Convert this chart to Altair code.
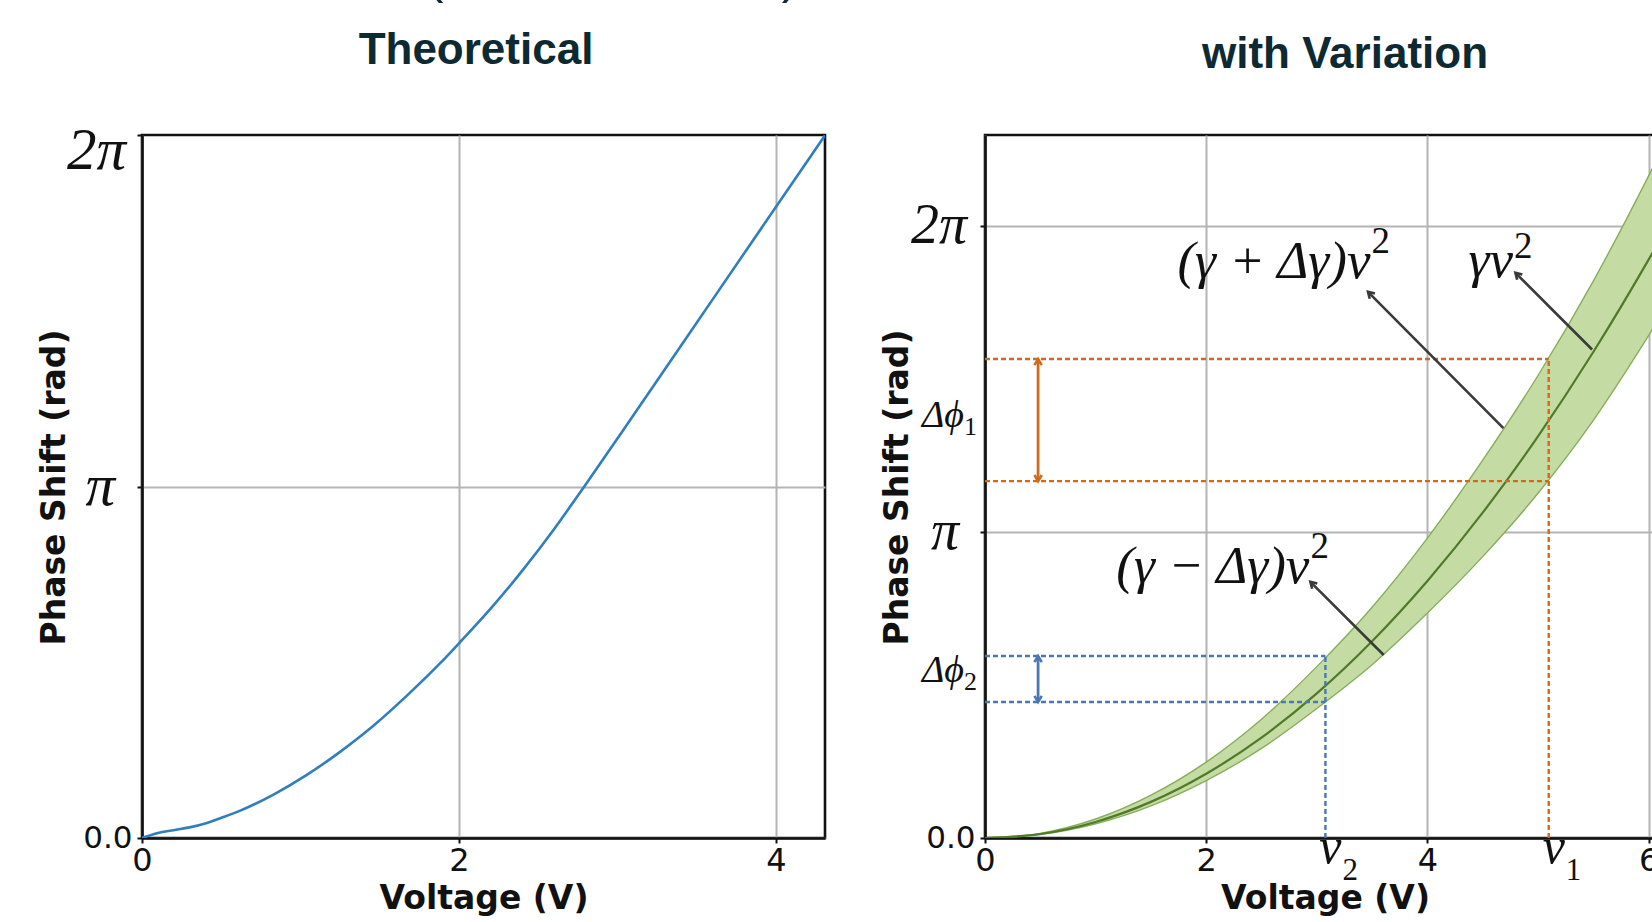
import math
import altair as alt
import pandas as pd

PI = math.pi

# ---------------- data: left panel (theoretical curve) ----------------
theo_v = [0, 0.1, 0.2, 0.3, 0.41, 0.52, 0.62, 0.83, 1.04, 1.25, 1.46, 1.67, 1.88, 2.01,
          2.2, 2.4, 2.6, 2.79, 3.02, 3.44, 4.00, 4.31]
theo_phase = [0, 0.045, 0.07, 0.095, 0.135, 0.19, 0.245, 0.388, 0.564, 0.77, 1.003, 1.27, 1.56, 1.755,
              2.05, 2.39, 2.76, 3.14, 3.61, 4.48, 5.64, 6.28]

# ---------------- data: right panel (band with variation) ----------------
band_v = [0, 0.5, 1, 1.5, 2, 2.5, 3, 3.5, 4, 4.5, 5, 5.5, 6, 6.5]
band_upper = [0, 0.048, 0.195, 0.44, 0.78, 1.22, 1.76, 2.37, 3.08, 3.88, 4.75, 5.72, 6.80, 7.98]
band_center = [0, 0.041, 0.165, 0.371, 0.66, 1.031, 1.485, 2.021, 2.64, 3.341, 4.125, 4.991, 5.94, 6.971]
band_lower = [0, 0.036, 0.146, 0.33, 0.59, 0.92, 1.33, 1.78, 2.31, 2.89, 3.54, 4.29, 5.16, 6.10]

v1, v2 = 5.097, 3.078
phi1_hi, phi1_lo = 4.92, 3.665
phi2_hi, phi2_lo = 1.869, 1.396
bracket_v = 0.48

# arrows: tail on curve -> head near label
arr_tail_v = [4.687, 5.489, 3.605]
arr_tail_p = [4.209, 5.017, 1.879]
arr_head_v = [3.463, 4.796, 2.942]
arr_head_p = [5.609, 5.804, 2.631]

# annotation labels (main text ends where its superscript starts)
ann_text = ["(γ  +  Δγ)v", "γv", "(γ  −  Δγ)v"]
ann_p = [5.749, 5.758, 2.618]
sup_v = [3.494, 4.783, 2.942]
sup_p = [6.006, 5.955, 2.875]

# pi tick labels
pi_vals = [PI, 2 * PI]
pi_text = ["π", "2π"]

ORANGE = "#cf6a1f"
BLUE = "#4a78b0"
GRAY_ARROW = "#3a3a3a"
INK = "#111111"
TITLE_COLOR = "#0d2a32"
GRID = "#b4b4b4"

W_L, W_R, H = 683, 720, 703


def y_axis(hide_top_grid):
    grid_color = ({"condition": {"test": "datum.value > 6", "value": "transparent"}, "value": GRID}
                  if hide_top_grid else GRID)
    return alt.Axis(
        values=[0, PI, 2 * PI],
        labelExpr="datum.value == 0 ? '0.0' : ''",
        labelFont="DejaVu Sans",
        labelFontSize=31,
        labelBaseline="middle",
        labelPadding=5,
        labelFlush=False,
        labelOverlap=False,
        labelColor=INK,
        gridColor=grid_color,
        title="Phase Shift (rad)",
        titleFont="DejaVu Sans",
        titleFontWeight="bold",
        titleFontSize=33,
        titleColor=INK,
        titleAngle=270,
        titleX=-88,
        titleY=352,
        titleAlign="center",
        titleBaseline="middle",
    )


def x_axis(vals, title_x):
    return alt.Axis(
        values=vals,
        format="d",
        labelFont="DejaVu Sans",
        labelFontSize=32,
        labelPadding=2,
        labelFlush=False,
        labelOverlap=False,
        labelColor=INK,
        gridColor=GRID,
        title="Voltage (V)",
        titleFont="DejaVu Sans",
        titleFontWeight="bold",
        titleFontSize=33,
        titleColor=INK,
        titleX=title_x,
        titleY=70,
        titleAlign="center",
        titleBaseline="alphabetic",
    )


def pi_labels(font_size, xs, dys):
    df = pd.DataFrame({"p": pi_vals, "t": pi_text, "px": xs, "dy": dys})
    layers = []
    for i in range(len(df)):
        layers.append(
            alt.Chart(df.iloc[[i]]).mark_text(
                font="Liberation Serif", fontStyle="italic", fontSize=font_size, color=INK,
                align="right", baseline="middle", dy=float(df["dy"].iloc[i])
            ).encode(x=alt.value(float(df["px"].iloc[i])), y="p:Q", text="t:N")
        )
    return layers


# ---------------- left panel ----------------
df_theo = pd.DataFrame({"v": theo_v, "phase": theo_phase})
xL = alt.Scale(domain=[0, 4.31], nice=False, zero=False)
yL = alt.Scale(domain=[0, 2 * PI], nice=False)

left_line = alt.Chart(df_theo).mark_line(
    color="#2f7fbf", strokeWidth=2.6, interpolate="monotone", clip=True
).encode(
    x=alt.X("v:Q", scale=xL, axis=x_axis([0, 2, 4], 341.5)),
    y=alt.Y("phase:Q", scale=yL, axis=y_axis(True)),
)

left_title = alt.Chart(pd.DataFrame({"t": ["Theoretical"]})).mark_text(
    font="Liberation Sans", fontWeight="bold", fontSize=44, color=TITLE_COLOR,
    align="center", baseline="alphabetic"
).encode(x=alt.value(334), y=alt.value(-71), text="t:N")

paren_df = pd.DataFrame({"t": ["(", ")"], "px": [293, 648]})
left_parens = alt.Chart(paren_df).mark_text(
    font="Liberation Sans", fontSize=50, color=TITLE_COLOR, align="center", baseline="alphabetic"
).encode(x=alt.X("px:Q", scale=None), y=alt.value(-142), text="t:N")

left = alt.layer(
    left_line, left_title, left_parens, *pi_labels(59, [-27, -16], [0, 16])
).properties(width=W_L, height=H)

# ---------------- right panel ----------------
df_band = pd.DataFrame({"v": band_v, "upper": band_upper, "center": band_center, "lower": band_lower})
xR = alt.Scale(domain=[0, 6.51], nice=False, zero=False)
yR = alt.Scale(domain=[0, 7.22], nice=False)

band = alt.Chart(df_band).mark_area(
    fill="#c4dca4", stroke="#86ae5c", strokeWidth=1.4, interpolate="monotone", clip=True
).encode(
    x=alt.X("v:Q", scale=xR, axis=x_axis([0, 2, 4, 6], 340)),
    y=alt.Y("upper:Q", scale=yR, axis=y_axis(False)),
    y2="lower:Q",
)
center = alt.Chart(df_band).mark_line(
    color="#4f7a28", strokeWidth=2.2, interpolate="monotone", clip=True
).encode(x="v:Q", y="center:Q")

df_dash = pd.DataFrame({
    "x": [0, 0, v1, 0, 0, v2],
    "x2": [v1, v1, v1, v2, v2, v2],
    "y": [phi1_hi, phi1_lo, 0, phi2_hi, phi2_lo, 0],
    "y2": [phi1_hi, phi1_lo, phi1_hi, phi2_hi, phi2_lo, phi2_hi],
    "g": ["o", "o", "o", "b", "b", "b"],
})
color_scale = alt.Scale(domain=["o", "b"], range=[ORANGE, BLUE])
dashes = alt.Chart(df_dash).mark_rule(strokeDash=[5, 3], strokeWidth=2.4).encode(
    x="x:Q", x2="x2:Q", y="y:Q", y2="y2:Q",
    color=alt.Color("g:N", scale=color_scale, legend=None),
)

df_br = pd.DataFrame({
    "x": [bracket_v, bracket_v], "lo": [phi1_lo, phi2_lo], "hi": [phi1_hi, phi2_hi], "g": ["o", "b"]
})
brackets = alt.Chart(df_br).mark_rule(strokeWidth=2.8).encode(
    x="x:Q", y="lo:Q", y2="hi:Q", color=alt.Color("g:N", scale=color_scale, legend=None)
)
HEAD = "M -0.6 1 L 0 0 L 0.6 1"
df_brh = pd.DataFrame({
    "x": [bracket_v] * 4,
    "y": [phi1_hi, phi1_lo, phi2_hi, phi2_lo],
    "ang": [0, 180, 0, 180],
    "g": ["o", "o", "b", "b"],
})
bracket_heads = alt.Chart(df_brh).mark_point(
    shape=HEAD, filled=False, strokeWidth=2.6, size=150, opacity=1
).encode(
    x="x:Q", y="y:Q", angle=alt.Angle("ang:Q", scale=None),
    stroke=alt.Stroke("g:N", scale=color_scale, legend=None),
)

df_arr = pd.DataFrame({"xt": arr_tail_v, "yt": arr_tail_p, "xh": arr_head_v, "yh": arr_head_p})
arrows = alt.Chart(df_arr).mark_rule(color=GRAY_ARROW, strokeWidth=2.6).encode(
    x="xt:Q", y="yt:Q", x2="xh:Q", y2="yh:Q"
)
arrow_heads = alt.Chart(df_arr).mark_point(
    shape=HEAD, filled=False, strokeWidth=2.6, size=150, opacity=1, color=GRAY_ARROW
).encode(x="xh:Q", y="yh:Q", angle=alt.value(315))

df_ann = pd.DataFrame({"t": ann_text, "v": sup_v, "p": ann_p})
ann = alt.Chart(df_ann).mark_text(
    font="Liberation Serif", fontStyle="italic", fontSize=53, color=INK,
    align="right", baseline="alphabetic", dx=-1
).encode(x="v:Q", y="p:Q", text="t:N")
df_sup = pd.DataFrame({"t": ["2", "2", "2"], "v": sup_v, "p": sup_p})
sup = alt.Chart(df_sup).mark_text(
    font="Liberation Serif", fontSize=37, color=INK, align="left", baseline="alphabetic"
).encode(x="v:Q", y="p:Q", text="t:N")

# delta-phi labels left of the axis
df_dphi = pd.DataFrame({"t": ["Δϕ", "Δϕ"], "s": ["1", "2"], "p": [4.22, 1.605]})
dphi = alt.Chart(df_dphi).mark_text(
    font="Liberation Serif", fontStyle="italic", fontSize=38, color=INK,
    align="right", baseline="alphabetic"
).encode(x=alt.value(-21), y="p:Q", text="t:N")
dphi_sub = alt.Chart(df_dphi).mark_text(
    font="Liberation Serif", fontSize=26, color=INK, align="left", baseline="alphabetic", dy=8
).encode(x=alt.value(-21), y="p:Q", text="s:N")

# v1, v2 labels under the axis
df_vl = pd.DataFrame({"v": [v2, v1], "s": ["2", "1"]})
vlab = alt.Chart(df_vl).mark_text(
    font="Liberation Serif", fontStyle="italic", fontSize=50, color=INK,
    align="center", baseline="alphabetic", dx=5
).encode(x="v:Q", y=alt.value(H + 25), text=alt.value("v"))
vsub = alt.Chart(df_vl).mark_text(
    font="Liberation Serif", fontSize=31, color=INK, align="left", baseline="alphabetic", dx=17
).encode(x="v:Q", y=alt.value(H + 42), text="s:N")

right_title = alt.Chart(pd.DataFrame({"t": ["with Variation"]})).mark_text(
    font="Liberation Sans", fontWeight="bold", fontSize=44, color=TITLE_COLOR,
    align="center", baseline="alphabetic"
).encode(x=alt.value(360), y=alt.value(-67), text="t:N")

right = alt.layer(
    band, center, dashes, brackets, bracket_heads, arrows, arrow_heads,
    ann, sup, dphi, dphi_sub, vlab, vsub, right_title, *pi_labels(56, [-26, -18], [0, 0])
).properties(width=W_R, height=H)

chart = alt.hconcat(left, right, spacing=160, bounds="flush").properties(
    autosize=alt.AutoSizeParams(type="none"),
    padding={"left": 142, "top": 135, "right": 1510, "bottom": 787},
    background="white",
).configure_view(
    stroke=INK, strokeWidth=2.6
).configure_axis(
    grid=True, gridWidth=2, gridColor=GRID, domain=True, domainColor=INK, domainWidth=2.6,
    ticks=True, tickColor=INK, tickSize=5, tickWidth=2,
)

chart.save("out.html", embed_options={"renderer": "svg", "actions": False})
